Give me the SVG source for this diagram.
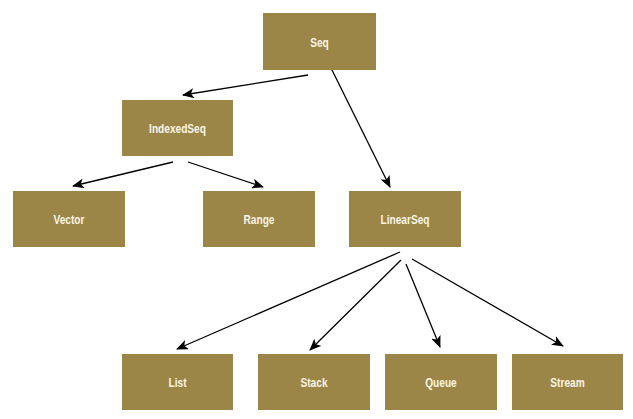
<svg xmlns="http://www.w3.org/2000/svg" width="633" height="419" viewBox="0 0 633 419">
<defs>
<style>
.box{fill:#9b8648;}
.lbl{fill:#fbf5e6;font-family:"Liberation Sans",Arial,sans-serif;font-weight:bold;font-size:13px;text-anchor:middle;dominant-baseline:central;}
.edge{stroke:#000;stroke-width:1.3;fill:none;marker-end:url(#ah);}
</style>
<marker id="ah" viewBox="0 0 12 10" refX="11" refY="5" markerWidth="12" markerHeight="10" markerUnits="userSpaceOnUse" orient="auto">
<path d="M0,0 L12,5 L0,10 L3,5 Z" fill="#000"/>
</marker>
</defs>
<g id="connectors">
<line class="edge" x1="308" y1="75" x2="183" y2="95"/>
<line class="edge" x1="331" y1="68" x2="390" y2="187"/>
<line class="edge" x1="173" y1="162" x2="73" y2="186"/>
<line class="edge" x1="188" y1="162" x2="263" y2="187"/>
<line class="edge" x1="400" y1="252" x2="177" y2="349"/>
<line class="edge" x1="401" y1="260" x2="310" y2="350"/>
<line class="edge" x1="406" y1="264" x2="440" y2="347"/>
<line class="edge" x1="412" y1="259" x2="563" y2="346"/>
</g>
<g id="seq"><rect class="box" x="263" y="13" width="113" height="57"/><text class="lbl" transform="translate(319.5,42) scale(0.78,1)">Seq</text></g>
<g id="indexedseq"><rect class="box" x="122" y="100" width="111" height="56"/><text class="lbl" transform="translate(177.5,128) scale(0.78,1)">IndexedSeq</text></g>
<g id="vector"><rect class="box" x="13" y="191" width="112" height="56"/><text class="lbl" transform="translate(69,219) scale(0.78,1)">Vector</text></g>
<g id="range"><rect class="box" x="203" y="191" width="112" height="56"/><text class="lbl" transform="translate(259,219) scale(0.78,1)">Range</text></g>
<g id="linearseq"><rect class="box" x="349" y="191" width="112" height="56"/><text class="lbl" transform="translate(405,219) scale(0.78,1)">LinearSeq</text></g>
<g id="list"><rect class="box" x="122" y="354" width="111" height="56"/><text class="lbl" transform="translate(177.5,382) scale(0.78,1)">List</text></g>
<g id="stack"><rect class="box" x="258" y="354" width="112" height="56"/><text class="lbl" transform="translate(314,382) scale(0.78,1)">Stack</text></g>
<g id="queue"><rect class="box" x="385" y="354" width="112" height="56"/><text class="lbl" transform="translate(441,382) scale(0.78,1)">Queue</text></g>
<g id="stream"><rect class="box" x="512" y="354" width="111" height="56"/><text class="lbl" transform="translate(567.5,382) scale(0.78,1)">Stream</text></g>
</svg>
